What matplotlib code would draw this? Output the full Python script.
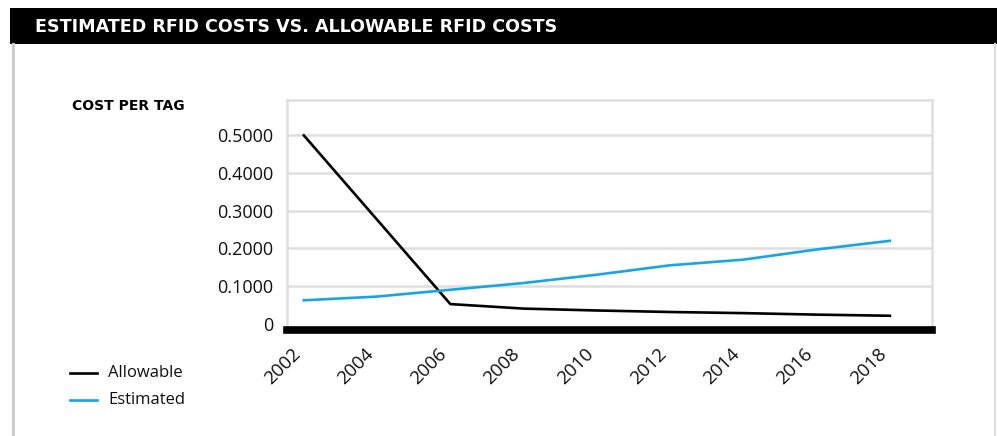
import matplotlib
matplotlib.use("Agg")
import matplotlib.pyplot as plt
from matplotlib.patches import Rectangle
from matplotlib.lines import Line2D

# data
years = [2002, 2004, 2006, 2008, 2010, 2012, 2014, 2016, 2018]
allowable = [0.500, 0.276, 0.052, 0.040, 0.035, 0.031, 0.028, 0.024, 0.021]
estimated = [0.062, 0.072, 0.090, 0.108, 0.130, 0.155, 0.170, 0.197, 0.220]
y_ticks = [0, 0.1, 0.2, 0.3, 0.4, 0.5]
y_labels = ["0", "0.1000", "0.2000", "0.3000", "0.4000", "0.5000"]

BLUE = "#16a6e2"
GRID = "#dedede"

W, H = 997, 436
fig = plt.figure(figsize=(W / 100, H / 100), dpi=100)

# header band + frame lines
fig.patches.append(Rectangle((10 / W, 1 - 44 / H), 1, 36 / H, transform=fig.transFigure,
                             facecolor="black", edgecolor="none"))
fig.text(35 / W, 1 - 27 / H, "ESTIMATED RFID COSTS VS. ALLOWABLE RFID COSTS",
         color="white", fontsize=12.6, fontweight="bold", va="center", ha="left",
         family="DejaVu Sans")
fig.lines.append(Line2D([12.5 / W, 12.5 / W], [0, 1 - 44 / H], transform=fig.transFigure,
                        color="#cccccc", lw=2.2))
fig.lines.append(Line2D([995 / W, 995 / W], [0, 1 - 44 / H], transform=fig.transFigure,
                        color="#dddddd", lw=1.5))

ax = fig.add_axes([287 / W, (H - 329.5) / H, (932 - 287) / W, (329.5 - 100) / H])
ax.plot(years, allowable, color="black", lw=1.9, solid_joinstyle="round")
ax.plot(years, estimated, color=BLUE, lw=1.9, solid_joinstyle="round")

ax.set_xlim(2001.54, 2019.15)
ax.set_ylim(-0.0155, 0.594)
ax.set_yticks(y_ticks)
ax.set_yticklabels(y_labels)
ax.set_xticks(years)
ax.set_xticklabels([str(y) for y in years], rotation=45, ha="right")
ax.tick_params(length=0, labelsize=13, colors="#111111")
ax.tick_params(axis="y", pad=10)
ax.tick_params(axis="x", pad=11, labelsize=13.5)
for lab in ax.get_xticklabels() + ax.get_yticklabels():
    lab.set_family("Open Sans")

for y in y_ticks[1:]:
    ax.axhline(y, color=GRID, lw=1.8, zorder=0)
for s in ["top", "left", "right"]:
    ax.spines[s].set_color(GRID)
    ax.spines[s].set_linewidth(1.8)
ax.spines["bottom"].set_color("black")
ax.spines["bottom"].set_linewidth(5.5)

fig.text(72 / W, 1 - 106 / H, "COST PER TAG", fontsize=10, fontweight="bold",
         va="center", ha="left", family="DejaVu Sans")

# legend
for yy, col, name in [(373, "black", "Allowable"), (400, BLUE, "Estimated")]:
    fig.lines.append(Line2D([70 / W, 97 / W], [1 - yy / H, 1 - yy / H],
                            transform=fig.transFigure, color=col, lw=1.9))
    fig.text(108 / W, 1 - yy / H, name, fontsize=12, va="center", ha="left",
             family="Open Sans", color="#111111")

fig.savefig("out.png", dpi=100)
